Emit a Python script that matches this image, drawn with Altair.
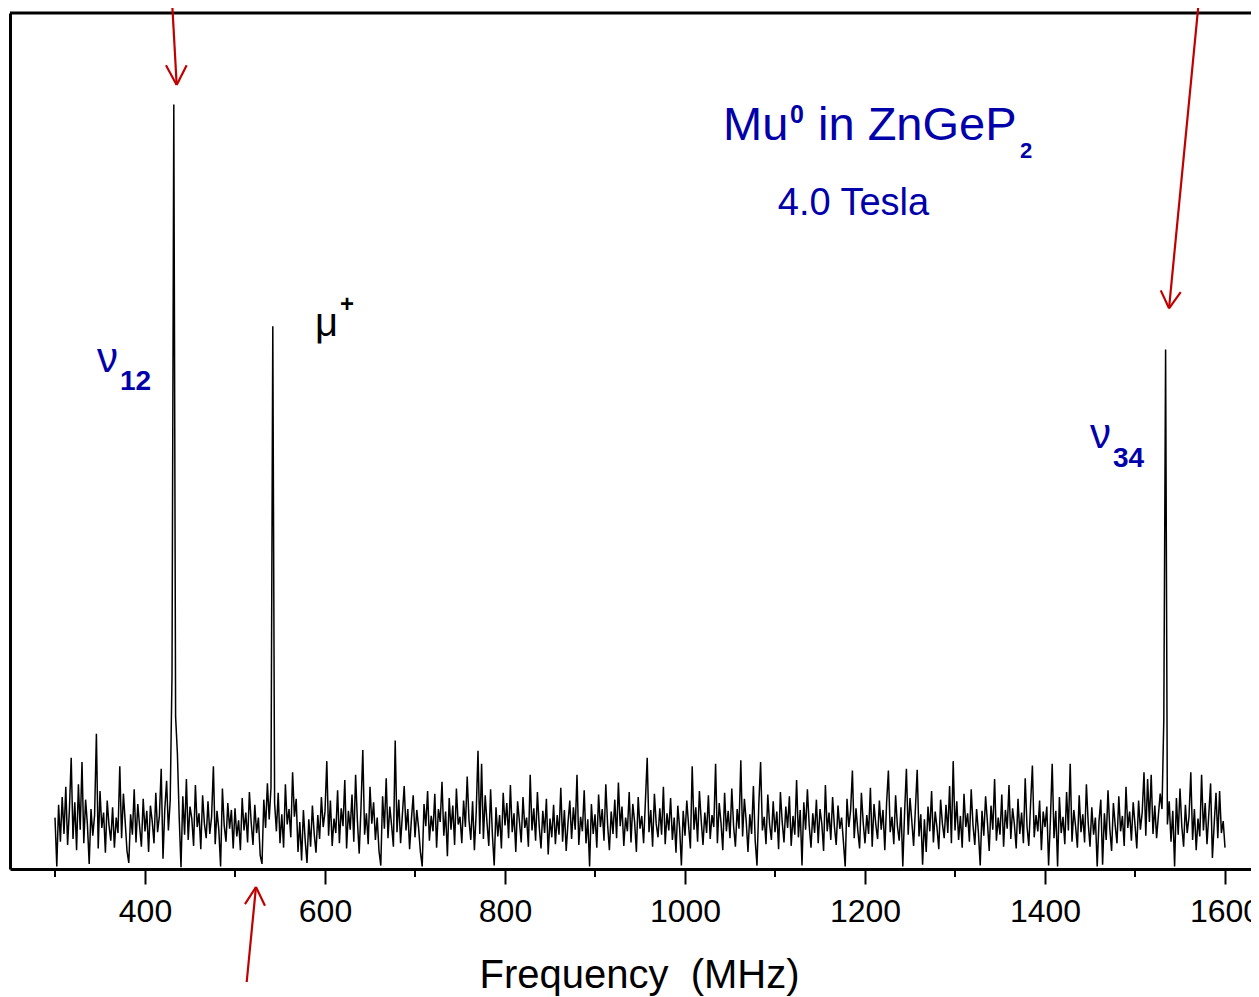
import altair as alt
import pandas as pd

# ---------------- data ----------------
FREQ_START = 300   # MHz, first sample
FREQ_STEP = 2      # MHz between samples

intensity = [
    # 300 - 398
    6.0, 0.3, 7.5, 3.2, 8.4, 4.1, 9.6, 2.8, 6.9, 13.0,
    3.5, 7.8, 2.2, 9.9, 4.6, 12.5, 3.0, 8.1, 5.2, 0.6,
    7.0, 3.9, 6.3, 15.8, 2.4, 9.1, 4.8, 6.6, 1.9, 8.0,
    5.1, 3.3, 7.2, 2.5, 6.0, 4.2, 12.0, 3.6, 8.8, 5.5,
    2.1, 0.7, 6.4, 4.0, 9.3, 3.1, 7.6, 5.0, 2.6, 8.2,
    # 400 - 498
    4.4, 6.8, 2.0, 7.4, 5.6, 3.0, 8.9, 4.3, 6.2, 11.7,
    1.2, 7.0, 10.3, 4.5, 8.0, 22.5, 89.3, 17.8, 13.5, 6.0,
    0.2, 8.5, 4.0, 10.5, 3.4, 7.3, 5.9, 2.7, 9.8, 4.9,
    6.5, 2.3, 8.6, 5.3, 3.6, 7.9, 4.1, 6.1, 12.0, 2.9,
    6.8, 4.6, 0.3, 9.4, 5.1, 3.2, 7.7, 4.7, 6.9, 2.4,
    # 500 - 598
    7.1, 3.8, 5.7, 2.2, 8.3, 4.5, 6.6, 3.1, 9.0, 5.4,
    2.8, 7.5, 4.2, 6.0, 1.6, 0.6, 8.1, 4.8, 10.0, 5.8,
    9.5, 63.4, 7.7, 4.4, 8.9, 3.0, 6.4, 2.5, 9.9, 5.2,
    7.0, 3.7, 11.3, 6.1, 8.2, 2.0, 5.5, 1.0, 6.9, 3.3,
    0.7, 5.8, 2.6, 7.4, 4.1, 1.9, 6.3, 3.5, 8.4, 4.9,
    # 600 - 698
    6.7, 12.6, 3.9, 8.0, 2.7, 5.9, 4.2, 9.2, 3.0, 7.1,
    5.0, 10.4, 2.4, 6.8, 4.6, 8.7, 3.2, 11.0, 5.6, 1.8,
    7.2, 13.9, 4.0, 6.5, 2.9, 9.6, 5.3, 7.8, 3.4, 6.0,
    2.1, 0.4, 8.5, 4.7, 10.6, 3.6, 7.3, 5.1, 2.6, 15.0,
    4.3, 8.1, 3.0, 6.4, 9.7, 4.5, 7.0, 2.3, 5.8, 8.6,
    # 700 - 798
    3.7, 6.9, 4.8, 2.0, 0.3, 7.6, 5.0, 9.1, 3.3, 6.2,
    4.4, 8.8, 2.5, 7.0, 5.5, 10.2, 3.9, 6.7, 1.5, 8.3,
    4.6, 7.4, 2.8, 9.4, 5.2, 6.1, 3.0, 8.0, 4.9, 10.8,
    5.7, 3.4, 7.9, 2.2, 6.6, 13.8, 4.1, 12.3, 3.5, 8.6,
    5.4, 2.7, 9.3, 4.0, 0.4, 7.2, 3.8, 6.3, 2.4, 8.9,
    # 800 - 898
    5.1, 7.7, 3.6, 9.8, 4.3, 6.5, 2.0, 7.9, 5.6, 3.1,
    8.4, 4.8, 6.0, 2.6, 11.0, 4.5, 7.1, 3.3, 9.0, 5.0,
    2.4, 6.8, 4.2, 8.2, 1.7, 5.9, 3.7, 7.5, 2.9, 6.3,
    4.0, 9.5, 3.2, 6.9, 2.1, 5.4, 8.0, 3.5, 7.2, 4.6,
    11.0, 2.8, 6.1, 4.4, 9.2, 3.0, 5.8, 0.3, 7.6, 4.1,
    # 900 - 998
    6.4, 2.5, 8.7, 4.9, 7.0, 3.3, 9.9, 5.2, 2.2, 6.7,
    4.1, 8.1, 3.6, 10.1, 5.0, 7.3, 2.7, 6.0, 4.4, 9.0,
    3.1, 7.6, 5.5, 2.0, 8.4, 4.7, 6.2, 3.0, 7.9, 13.0,
    4.3, 6.9, 2.6, 8.8, 5.3, 3.7, 7.1, 4.0, 9.6, 2.9,
    6.5, 4.5, 8.3, 3.4, 6.0, 1.9, 7.4, 4.8, 0.4, 6.8,
    # 1000 - 1098
    3.9, 8.0, 5.1, 2.4, 12.0, 4.6, 7.2, 3.2, 9.1, 5.7,
    2.8, 6.6, 4.2, 8.6, 3.5, 6.3, 4.9, 12.3, 3.0, 7.7,
    5.4, 2.2, 8.9, 4.4, 6.8, 3.6, 9.4, 5.0, 2.6, 7.0,
    4.7, 12.7, 3.8, 8.2, 5.6, 2.0, 6.4, 4.1, 9.7, 3.3,
    0.4, 7.5, 12.5, 4.5, 6.1, 2.9, 8.7, 5.2, 3.4, 7.9,
    # 1100 - 1198
    4.3, 6.7, 2.3, 9.0, 5.5, 3.1, 7.3, 4.8, 8.5, 2.7,
    6.2, 4.0, 10.4, 3.7, 6.9, 0.4, 7.8, 4.6, 9.3, 5.1,
    2.5, 6.5, 4.2, 8.1, 3.0, 7.0, 5.3, 2.1, 9.8, 4.4,
    6.6, 3.4, 8.4, 5.0, 2.8, 7.4, 4.7, 6.0, 3.2, 0.3,
    8.2, 4.9, 6.8, 11.5, 3.6, 7.1, 4.5, 2.4, 8.9, 5.4,
    # 1200 - 1298
    3.0, 6.3, 4.1, 9.5, 2.6, 7.6, 5.2, 3.5, 8.0, 4.6,
    6.9, 2.2, 7.7, 11.5, 4.3, 6.1, 2.9, 8.6, 5.0, 3.3,
    7.2, 0.3, 6.6, 11.7, 4.0, 8.3, 5.6, 2.7, 7.0, 11.6,
    3.8, 6.4, 0.5, 5.8, 2.0, 7.3, 4.4, 9.1, 3.1, 6.7,
    4.8, 2.3, 8.1, 5.3, 3.6, 7.5, 4.2, 9.7, 3.0, 12.6,
    # 1300 - 1398
    4.5, 7.9, 3.4, 6.2, 2.5, 8.8, 4.9, 6.5, 3.2, 9.3,
    5.1, 2.8, 7.0, 4.3, 0.4, 6.8, 3.9, 8.5, 5.5, 2.1,
    7.4, 4.6, 10.5, 3.3, 6.0, 4.0, 8.7, 2.6, 6.9, 4.7,
    9.8, 3.5, 7.1, 5.2, 2.4, 8.2, 4.1, 6.6, 3.0, 10.6,
    5.0, 2.7, 7.6, 12.1, 3.7, 6.3, 4.4, 8.0, 2.2, 6.7,
    # 1400 - 1498
    4.9, 7.3, 0.4, 5.7, 12.3, 3.6, 6.8, 0.3, 8.4, 4.2,
    6.1, 2.9, 9.0, 4.5, 12.3, 3.2, 6.9, 5.0, 2.5, 8.6,
    4.3, 6.4, 3.1, 9.9, 5.4, 2.6, 7.2, 4.0, 6.0, 0.3,
    5.6, 8.1, 0.5, 6.5, 3.4, 9.2, 4.7, 2.1, 7.7, 5.1,
    3.0, 8.5, 4.4, 6.2, 2.7, 9.6, 4.8, 6.7, 3.3, 7.8,
    # 1500 - 1598
    5.2, 2.4, 8.0, 4.6, 6.6, 11.3, 3.9, 10.5, 5.5, 11.0,
    4.1, 7.4, 3.6, 6.3, 8.8, 7.0, 17.4, 60.7, 5.2, 7.9,
    3.2, 6.8, 0.3, 8.3, 4.0, 9.4, 5.0, 2.6, 7.5, 4.2,
    6.1, 11.3, 3.4, 7.0, 2.2, 5.9, 3.8, 11.0, 4.5, 7.7,
    2.9, 6.4, 10.0, 1.3, 5.3, 8.9, 3.6, 9.1, 4.2, 5.6,
    # 1600
    2.5,
]
freq = [FREQ_START + FREQ_STEP * i for i in range(len(intensity))]

major_ticks = [400, 600, 800, 1000, 1200, 1400, 1600]
minor_ticks = [300, 500, 700, 900, 1100, 1300, 1500]

# annotation texts (positions in data units: MHz, intensity)
title_words = ["Mu", "in ZnGeP"]
title_x = [1042.2, 1147.8]
title_y = [85.2, 85.2]
sup_text, sup_x, sup_y = ["0"], [1116.7], [87.1]
sub_text, sub_x, sub_y = ["2"], [1372.2], [83.1]
field_text, field_x, field_y = ["4.0 Tesla"], [1187.2], [76.4]
nu_text, nu_x, nu_y = ["\u03bd", "\u03bd"], [346.7, 1450.0], [58.1, 49.2]
nusub_text, nusub_x, nusub_y = ["12", "34"], [372.2, 1475.6], [56.0, 47.0]
mu_text, mu_x, mu_y = ["\u03bc"], [588.9], [62.3]
plus_text, plus_x, plus_y = ["+"], [624.4], [65.1]

# arrows: shafts and heads as segments (MHz, intensity)
arrow_x1 = [430.0, 423.3, 446.3, 1571.0, 1528.6, 1550.8, 513.0, 511.1, 533.3]
arrow_y1 = [101.5, 93.9, 93.9, 101.5, 67.6, 67.4, -13.2, -4.1, -4.3]
arrow_x2 = [435.2, 435.2, 435.2, 1537.8, 1537.8, 1537.8, 523.3, 523.3, 523.3]
arrow_y2 = [91.6, 91.6, 91.6, 65.5, 65.5, 65.5, -2.1, -2.1, -2.1]

# ---------------- chart ----------------
W, H = 1241, 856
PAD = {"left": 2, "top": 5, "right": 0, "bottom": 128}
FONT = "Liberation Sans, Arial, sans-serif"
BLUE = "#0000aa"
RED = "#c00000"

xs = alt.Scale(domain=[250, 250 + W / 0.9], nice=False, zero=False)
ys = alt.Scale(domain=[0, 100], nice=False, zero=False)

spec = pd.DataFrame({"f": freq, "v": intensity})

x_axis = alt.Axis(
    values=major_ticks, format="d", title="Frequency\u00a0\u00a0(MHz)",
    grid=False, domainColor="black", domainWidth=3, tickColor="black",
    tickWidth=2, tickSize=15, labelFontSize=32, labelFont=FONT,
    labelColor="black", labelPadding=12, labelFlush=False,
    labelOverlap=False, titleFont=FONT, titleFontSize=40,
    titleFontWeight="normal", titleColor="black", titleX=629, titleY=118,
    titleBaseline="alphabetic", titleAlign="center",
)
y_axis = alt.Axis(
    title=None, labels=False, ticks=False, grid=False, domainColor="black",
    domainWidth=3, minExtent=0,
)

line = alt.Chart(spec).mark_line(color="black", strokeWidth=1.5).encode(
    x=alt.X("f:Q", scale=xs, axis=x_axis),
    y=alt.Y("v:Q", scale=ys, axis=y_axis),
)

minor = alt.Chart(pd.DataFrame({"t": minor_ticks})).mark_rule(
    color="black", strokeWidth=2).encode(
    x=alt.X("t:Q", scale=xs), y=alt.value(H), y2=alt.value(H + 8))

top_border = alt.Chart(pd.DataFrame({"a": [0]})).mark_rule(
    color="black", strokeWidth=3).encode(
    x=alt.value(0), x2=alt.value(W), y=alt.value(0))


def texts(t, x, y, size, color, weight="normal", align="left", font=FONT):
    df = pd.DataFrame({"t": t, "x": x, "y": y})
    return alt.Chart(df).mark_text(
        fontSize=size, color=color, fontWeight=weight, align=align,
        baseline="alphabetic", font=font).encode(
        x=alt.X("x:Q", scale=xs), y=alt.Y("y:Q", scale=ys), text="t:N")


ann = [
    texts(title_words, title_x, title_y, 47, BLUE),
    texts(sup_text, sup_x, sup_y, 25, BLUE, weight="bold"),
    texts(sub_text, sub_x, sub_y, 22, BLUE, weight="bold"),
    texts(field_text, field_x, field_y, 38, BLUE, align="center"),
    texts(nu_text, nu_x, nu_y, 42, BLUE),
    texts(nusub_text, nusub_x, nusub_y, 28, BLUE, weight="bold"),
    texts(mu_text, mu_x, mu_y, 40, "black"),
    texts(plus_text, plus_x, plus_y, 24, "black", weight="bold", align="center"),
]

arrows = alt.Chart(pd.DataFrame({
    "x1": arrow_x1, "y1": arrow_y1, "x2": arrow_x2, "y2": arrow_y2,
})).mark_rule(color=RED, strokeWidth=2.2).encode(
    x=alt.X("x1:Q", scale=xs), y=alt.Y("y1:Q", scale=ys),
    x2="x2:Q", y2="y2:Q")

chart = alt.layer(line, minor, top_border, arrows, *ann).properties(
    width=W, height=H, padding=PAD,
    autosize=alt.AutoSizeParams(type="none"),
).configure_view(stroke=None).configure(background="white")

chart.save("out.html", embed_options={"renderer": "svg", "actions": False})
